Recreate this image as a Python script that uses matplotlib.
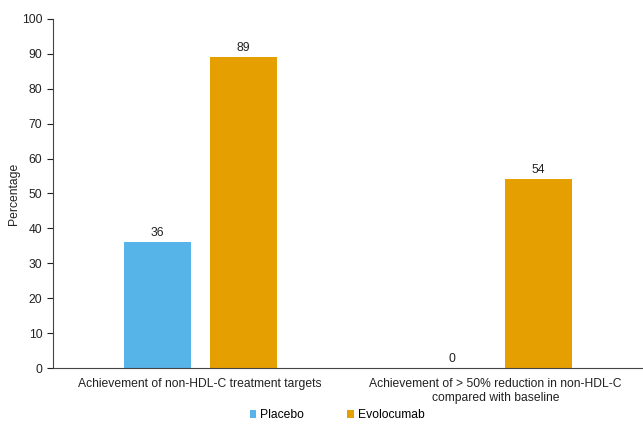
import numpy as np
import matplotlib.pyplot as plt

plt.rcParams['font.family'] = ['Liberation Sans', 'DejaVu Sans']

categories = ['Achievement of non-HDL-C treatment targets',
              'Achievement of > 50% reduction in non-HDL-C\ncompared with baseline']
placebo = [36, 0]
evolocumab = [89, 54]
series_names = ['Placebo', 'Evolocumab']
colors = ['#56B4E9', '#E69F00']

fig = plt.figure(figsize=(6.43, 4.28), dpi=100)
ax = fig.add_axes([0.082, 0.14, 0.918, 0.816])

x = np.arange(len(categories))
w = 0.227
off = 0.146
b1 = ax.bar(x - off, placebo, w, color=colors[0], label=series_names[0])
b2 = ax.bar(x + off, evolocumab, w, color=colors[1], label=series_names[1])
for bars, vals in ((b1, placebo), (b2, evolocumab)):
    for r, v in zip(bars, vals):
        ax.text(r.get_x() + r.get_width() / 2, v + 1, str(v),
                ha='center', va='bottom', fontsize=8.7, color='#222222')

ax.set_xlim(-0.5, 1.5)
ax.set_ylim(0, 100)
ax.set_yticks(range(0, 101, 10))
ax.set_xticks(x)
ax.set_xticklabels(categories, fontsize=8.7, color='#222222')
ax.tick_params(axis='x', length=0, pad=7)
ax.tick_params(axis='y', labelsize=8.7, length=4, colors='#222222', direction='out')
ax.set_ylabel('Percentage', fontsize=8.7, color='#222222', labelpad=1)
for s in ('top', 'right'):
    ax.spines[s].set_visible(False)
ax.spines['left'].set_color('#444444')
ax.spines['bottom'].set_color('#444444')

fig.legend(handles=[b1, b2], labels=series_names, loc='lower center',
           bbox_to_anchor=(0.524, -0.01), ncol=2, frameon=False, fontsize=8.7,
           handlelength=0.55, handleheight=0.55, handletextpad=0.3, columnspacing=3.6)

fig.savefig('out.png', dpi=100)
